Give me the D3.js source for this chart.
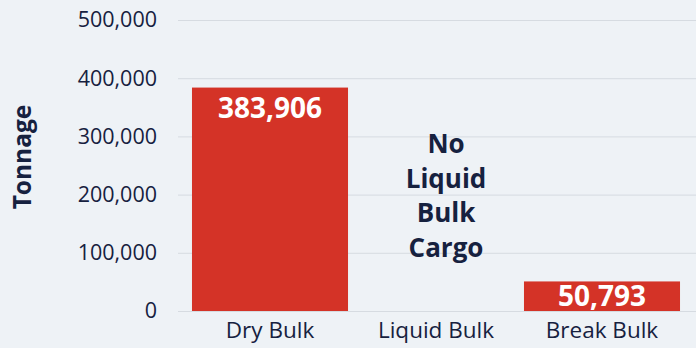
<!DOCTYPE html>
<html>
<head>
<meta charset="utf-8">
<script src="https://cdn.jsdelivr.net/npm/d3@7"></script>
<style>
  html, body { margin: 0; padding: 0; background: #eef2f6; }
  svg { display: block; }
  text { font-family: "Open Sans", "Noto Sans", sans-serif; }
</style>
</head>
<body>
<svg id="chart" width="696" height="348"></svg>
<script>
// Cargo tonnage by type
const categories = ["Dry Bulk", "Liquid Bulk", "Break Bulk"];
const tonnage = [383906, null, 50793];
const yTicks = [0, 100000, 200000, 300000, 400000, 500000];
const noCargoNote = ["No", "Liquid", "Bulk", "Cargo"];

const width = 696, height = 348;
const ink = "#16213f";
const barColor = "#d43327";

const svg = d3.select("#chart");

const x = d3.scaleBand()
  .domain(categories)
  .range([187, 685])
  .paddingInner(0.06)
  .paddingOuter(0.03);

const y = d3.scaleLinear()
  .domain([0, 500000])
  .range([311, 20]);

// Horizontal gridlines
svg.append("g")
  .selectAll("line")
  .data(yTicks)
  .join("line")
  .attr("x1", 178)
  .attr("x2", width)
  .attr("y1", d => y(d) + 0.5)
  .attr("y2", d => y(d) + 0.5)
  .attr("stroke", "#d6dbe1")
  .attr("stroke-width", 1);

// Y axis labels
const yAxis = d3.axisLeft(y)
  .tickValues(yTicks)
  .tickFormat(d3.format(","))
  .tickSize(0)
  .tickPadding(0);

svg.append("g")
  .attr("transform", "translate(157,0)")
  .call(yAxis)
  .call(g => g.select(".domain").remove())
  .call(g => g.selectAll("text")
    .attr("fill", ink)
    .attr("font-size", 21.5)
    .attr("font-family", "'Open Sans', sans-serif"));

// Y axis title
svg.append("text")
  .attr("transform", "translate(31,157) rotate(-90)")
  .attr("text-anchor", "middle")
  .attr("font-size", 24.5)
  .attr("font-weight", 700)
  .attr("fill", ink)
  .text("Tonnage");

// Bars
const rows = categories.map((c, i) => ({ cat: c, value: tonnage[i] }))
  .filter(d => d.value != null);

svg.append("g")
  .selectAll("rect")
  .data(rows)
  .join("rect")
  .attr("x", d => x(d.cat))
  .attr("width", x.bandwidth())
  .attr("y", d => y(d.value))
  .attr("height", d => y(0) - y(d.value))
  .attr("fill", barColor);

// Value labels inside the bars: near the top, or centred when the bar is short
svg.append("g")
  .selectAll("text")
  .data(rows)
  .join("text")
  .attr("x", d => x(d.cat) + x.bandwidth() / 2)
  .attr("y", d => Math.min(y(d.value) + 30, (y(d.value) + y(0)) / 2 + 10))
  .attr("text-anchor", "middle")
  .attr("font-size", 28)
  .attr("font-weight", 700)
  .attr("fill", "#ffffff")
  .text(d => d3.format(",")(d.value));

// Note for the empty category
svg.append("text")
  .attr("text-anchor", "middle")
  .attr("font-size", 26)
  .attr("font-weight", 700)
  .attr("fill", ink)
  .selectAll("tspan")
  .data(noCargoNote)
  .join("tspan")
  .attr("x", x("Liquid Bulk") + x.bandwidth() / 2 + 10)
  .attr("y", (d, i) => 153 + i * 34.7)
  .text(d => d);

// Category labels
const xAxis = d3.axisBottom(x).tickSize(0).tickPadding(0);
svg.append("g")
  .attr("transform", "translate(0,322)")
  .call(xAxis)
  .call(g => g.select(".domain").remove())
  .call(g => g.selectAll("text")
    .attr("fill", ink)
    .attr("font-size", 22.5)
    .attr("font-family", "'Open Sans', sans-serif"));
</script>
</body>
</html>
